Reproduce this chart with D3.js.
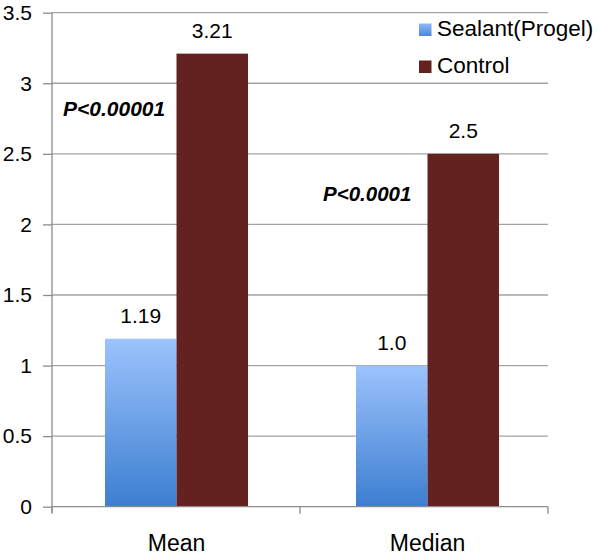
<!DOCTYPE html>
<html>
<head>
<meta charset="utf-8">
<script src="https://cdn.jsdelivr.net/npm/d3@7"></script>
<style>
html,body{margin:0;padding:0;background:#fff;}
svg{display:block;font-family:"Liberation Sans",Arial,Helvetica,sans-serif;}
</style>
</head>
<body>
<svg id="chart" width="600" height="556"></svg>
<script>
const categories = ["Mean", "Median"];
const seriesNames = ["Sealant(Progel)", "Control"];
const sealantValues = [1.19, 1.0];
const controlValues = [3.21, 2.5];
const valueLabels = [["1.19", "1.0"], ["3.21", "2.5"]];
const yTicks = [0, 0.5, 1, 1.5, 2, 2.5, 3, 3.5];
const yTickLabels = ["0", "0.5", "1", "1.5", "2", "2.5", "3", "3.5"];
const pLabels = ["P<0.00001", "P<0.0001"];
const pLabelValues = [2.85, 2.25];

(function () {
const svg = d3.select("#chart");
const mLeft = 52, mRight = 548, mTop = 12.7, mBottom = 506.7;

const x0 = d3.scaleBand().domain(categories).range([mLeft - 1, mRight + 5]).paddingInner(0).paddingOuter(0);
const x1 = d3.scaleBand().domain(seriesNames).range([0, x0.bandwidth()]).paddingInner(0).paddingOuter(0.755);
const y = d3.scaleLinear().domain([0, 3.5]).range([mBottom, mTop]);

const defs = svg.append("defs");
const grad = defs.append("linearGradient").attr("id", "blueGrad")
  .attr("x1", 0).attr("y1", 0).attr("x2", 0).attr("y2", 1);
grad.append("stop").attr("offset", "0%").attr("stop-color", "#9cc3fd");
grad.append("stop").attr("offset", "100%").attr("stop-color", "#3c7ed0");
const lgrad = defs.append("linearGradient").attr("id", "blueGradLegend")
  .attr("x1", 0).attr("y1", 0).attr("x2", 0).attr("y2", 1);
lgrad.append("stop").attr("offset", "0%").attr("stop-color", "#8fb8f5");
lgrad.append("stop").attr("offset", "100%").attr("stop-color", "#4a88d6");

const fills = ["url(#blueGrad)", "#63221f"];
const seriesValues = [sealantValues, controlValues];

// gridlines
svg.append("g").selectAll("line").data(yTicks.filter(d => d > 0)).join("line")
  .attr("x1", mLeft).attr("x2", mRight)
  .attr("y1", d => y(d)).attr("y2", d => y(d))
  .attr("stroke", "#a3a3a3").attr("stroke-width", 1.3);

// y axis
const yAxis = d3.axisLeft(y).tickValues(yTicks).tickSize(9).tickPadding(11)
  .tickFormat((d, i) => yTickLabels[i]);
const gy = svg.append("g").attr("transform", `translate(${mLeft},0)`).call(yAxis);
gy.select(".domain").attr("stroke", "#8c8c8c").attr("stroke-width", 1.3)
  .attr("d", `M0,${mTop}V${mBottom + 6}`);
gy.selectAll(".tick line").attr("stroke", "#8c8c8c").attr("stroke-width", 1.3);
gy.selectAll(".tick text").attr("font-size", 21).attr("fill", "#000")
  .attr("font-family", "'Liberation Sans',Arial,sans-serif");

// bars
categories.forEach((c, ci) => {
  seriesNames.forEach((s, si) => {
    const v = seriesValues[si][ci];
    const bx = x0(c) + x1(s);
    svg.append("rect")
      .attr("x", bx).attr("y", y(v))
      .attr("width", x1.bandwidth()).attr("height", y(0) - y(v))
      .attr("fill", fills[si]);
    svg.append("text")
      .attr("x", bx + x1.bandwidth() / 2).attr("y", y(v) - 16)
      .attr("text-anchor", "middle").attr("font-size", 21).attr("fill", "#000")
      .text(valueLabels[si][ci]);
  });
});

// x axis
const gx = svg.append("g").attr("transform", `translate(0,${mBottom})`);
gx.append("line").attr("x1", mLeft).attr("x2", mRight).attr("y1", 0).attr("y2", 0)
  .attr("stroke", "#8c8c8c").attr("stroke-width", 1.3);
gx.selectAll(".xt").data([mLeft, (mLeft + mRight) / 2, mRight]).join("line")
  .attr("class", "xt")
  .attr("x1", d => d).attr("x2", d => d).attr("y1", 0).attr("y2", 7)
  .attr("stroke", "#8c8c8c").attr("stroke-width", 1.3);
gx.selectAll(".xl").data(categories).join("text")
  .attr("class", "xl")
  .attr("x", d => x0(d) + x0.bandwidth() / 2).attr("y", 44)
  .attr("text-anchor", "middle").attr("font-size", 23).attr("fill", "#000")
  .text(d => d);

// p-value annotations
svg.append("text").attr("x", 63).attr("y", y(pLabelValues[0]) + 12)
  .attr("font-size", 21).attr("font-weight", "bold").attr("font-style", "italic")
  .text(pLabels[0]);
svg.append("text").attr("x", 323).attr("y", y(pLabelValues[1]) + 12)
  .attr("font-size", 20.5).attr("font-weight", "bold").attr("font-style", "italic")
  .text(pLabels[1]);

// legend
const legendFills = ["url(#blueGradLegend)", "#63221f"];
const lg = svg.append("g");
seriesNames.forEach((s, i) => {
  const ly = 23.5 + i * 37;
  lg.append("rect").attr("x", 419).attr("y", ly).attr("width", 12.5).attr("height", 12.5)
    .attr("fill", legendFills[i]);
  lg.append("text").attr("x", 437).attr("y", ly + 12.8)
    .attr("font-size", 22.5).attr("fill", "#000").text(s);
});
})();
</script>
</body>
</html>
